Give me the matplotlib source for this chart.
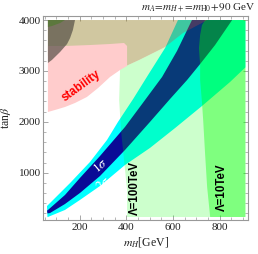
import matplotlib
matplotlib.use("Agg")
import matplotlib.pyplot as plt
from matplotlib.patches import Polygon
from matplotlib.ticker import MultipleLocator

plt.rcParams['mathtext.fontset'] = 'stix'
plt.rcParams['font.family'] = ['Liberation Serif', 'DejaVu Serif']

# ---- data: region boundaries (m_H [GeV], tan beta) ----
sig2_upper_mH = [60, 159, 244, 317, 364, 429, 493, 566, 621]
sig2_upper_tb = [345, 798, 1210, 1643, 1997, 2448, 2920, 3451, 4000]
sig2_lower_mH = [62, 64, 137, 201, 287, 394, 501, 609, 724, 844, 910]
sig2_lower_tb = [128, 130, 268, 464, 739, 1151, 1486, 1879, 2311, 2782, 3070]

sig1_upper_mH = [60, 64, 137, 201, 287, 394, 467, 553, 617, 681]
sig1_upper_tb = [255, 267, 562, 896, 1328, 1898, 2348, 2881, 3392, 4000]
sig1_lower_mH = [62, 73, 137, 201, 287, 394, 501, 587, 660, 716, 780, 853]
sig1_lower_tb = [200, 208, 385, 601, 935, 1446, 1997, 2448, 2821, 3136, 3509, 4000]

lam100_mH = [403, 910, 910, 746, 716, 643, 566, 454, 403, 373, 369, 377, 390, 403]
lam100_tb = [130, 130, 4000, 4000, 3922, 3745, 3469, 3213, 3106, 3040, 2427, 1837, 1247, 658]

lam10_mH = [759, 910, 910, 737, 724, 716, 711, 716, 716, 724, 729, 737, 746]
lam10_tb = [130, 130, 4000, 4000, 3900, 3705, 3450, 3116, 2822, 2370, 2036, 1387, 719]

tan_mH = [64, 746, 716, 643, 566, 454, 403, 330, 64]
tan_tb = [4000, 4000, 3922, 3745, 3469, 3213, 3106, 3150, 3300]

stab_mH = [64, 137, 244, 330, 390, 403, 403, 373, 330, 279, 231, 180, 137, 94, 64]
stab_tb = [3490, 3490, 3509, 3529, 3549, 3490, 3097, 3018, 2881, 2665, 2488, 2370, 2291, 2232, 2193]

dark_mH = [64, 180, 171, 159, 146, 116, 81, 64]
dark_tb = [4000, 4000, 3804, 3647, 3529, 3372, 3215, 3156]

dkgreen_mH = [64, 137, 116, 81, 64]
dkgreen_tb = [4000, 4000, 3941, 3882, 3863]

xticks = [200, 400, 600, 800]
yticks = [1000, 2000, 3000, 4000]

fig = plt.figure(figsize=(2.58, 2.54), dpi=100)
ax = fig.add_axes([0.1686, 0.1339, 0.7926, 0.8031])
ax.set_xlim(45, 921)
ax.set_ylim(71, 4079)


def poly(xs, ys, **kw):
    ax.add_patch(Polygon(list(zip(xs, ys)), closed=True, linewidth=0, **kw))


poly(sig2_upper_mH + [910, 910] + sig2_lower_mH[::-1],
     sig2_upper_tb + [4000, 4000] + sig2_lower_tb[::-1],
     facecolor='#00ffff', zorder=1)
poly(sig1_upper_mH + sig1_lower_mH[::-1],
     sig1_upper_tb + sig1_lower_tb[::-1],
     facecolor=(0.04, 0.04, 0.59), zorder=2)
poly(lam100_mH, lam100_tb, facecolor='#00ff00', alpha=0.2, zorder=3)
poly(lam10_mH, lam10_tb, facecolor='#00ff00', alpha=0.375, zorder=4)
poly(tan_mH, tan_tb, facecolor=(0.58, 0.49, 0.14), alpha=0.43, zorder=5)
poly(stab_mH, stab_tb, facecolor='#ffcccc', zorder=6)
poly(dark_mH, dark_tb, facecolor=(0.334, 0.309, 0.273), alpha=0.7, zorder=7)
poly(dkgreen_mH, dkgreen_tb, facecolor=(0.36, 0.47, 0.24), zorder=8)

# labels inside
sans = ['Liberation Sans', 'DejaVu Sans']
ax.text(206, 2704, 'stability', color='red', fontsize=8.5, fontweight='bold',
        family=sans, rotation=36, ha='center', va='center', zorder=10)
ax.text(437, 700, 'Λ=100TeV', color='black', fontsize=8.3, fontweight='bold',
        family=sans, rotation=90, ha='center', va='center', zorder=10)
ax.text(810, 720, 'Λ=10TeV', color='black', fontsize=8.3, fontweight='bold',
        family=sans, rotation=90, ha='center', va='center', zorder=10)
ax.text(287, 1130, r'$1\sigma$', color='white', fontsize=9.5, rotation=40,
        ha='center', va='center', zorder=10)
ax.text(300, 790, r'$2\sigma$', color='white', fontsize=9.5, rotation=40,
        ha='center', va='center', zorder=10)

# frame and ticks
for s in ax.spines.values():
    s.set_color('#999999')
    s.set_linewidth(0.8)
ax.set_xticks(xticks)
ax.set_yticks(yticks)
ax.xaxis.set_minor_locator(MultipleLocator(50))
ax.yaxis.set_minor_locator(MultipleLocator(200))
ax.tick_params(which='both', direction='in', top=True, right=True,
               color='#999999', labelsize=8, labelcolor='#222222', pad=2)
ax.tick_params(which='major', length=3.5, width=0.6)
ax.tick_params(which='minor', length=2, width=0.5)

ax.set_xlabel(r'$m_H$[GeV]', fontsize=8.5, labelpad=2, color='#222222')
ax.set_ylabel(r'tan$\beta$', fontsize=8.5, labelpad=4, color='#222222')
fig.text(0.988, 0.968, r'$m_A\!=\!m_{H+}\!=\!m_{\mathrm{H0}}\!+\!90$ GeV',
         ha='right', va='center', fontsize=8, color='#222222')

fig.savefig('out.png', dpi=100)
